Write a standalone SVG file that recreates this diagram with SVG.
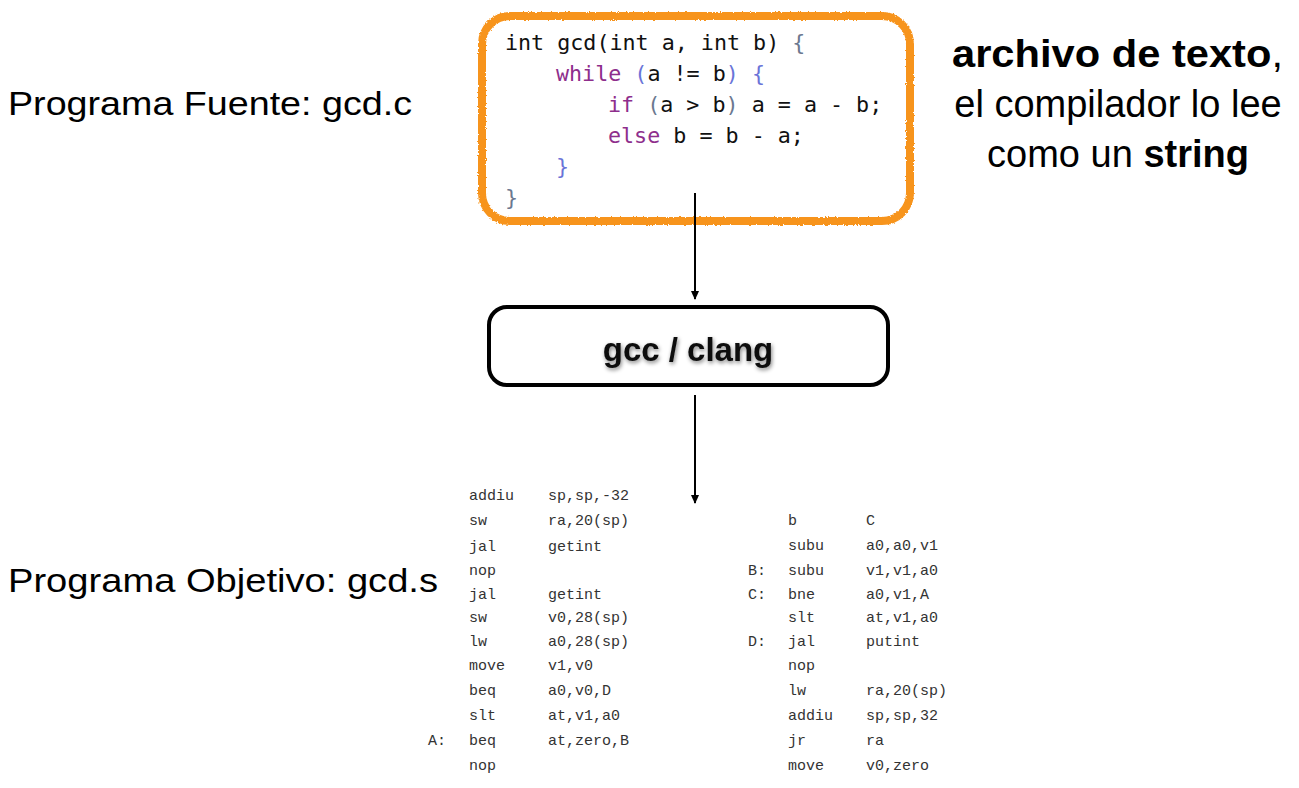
<svg xmlns="http://www.w3.org/2000/svg" width="1299" height="788" viewBox="0 0 1299 788">
<defs>
<style>
.lbl{font-family:"Liberation Sans",Arial,sans-serif;font-size:33px;fill:#000}
.rt{font-family:"Liberation Sans",Arial,sans-serif;font-size:38px;fill:#000}
.b{font-weight:bold}
.code{font-family:"DejaVu Sans Mono",monospace;font-size:21.7px;fill:#111;white-space:pre}
.kw{fill:#8e2e8c}
.br{fill:#6a74d8}
.gb{fill:#6b7890}
.asm{font-family:"Liberation Mono","Courier New",monospace;font-size:15px;fill:#333;white-space:pre}
.conn{stroke:#000;stroke-width:2;fill:none}
</style>
<marker id="ah" markerWidth="10" markerHeight="10" refX="8" refY="5" orient="auto" markerUnits="userSpaceOnUse">
<path d="M0,1 L9,5 L0,9 Z" fill="#000"/>
</marker>
<filter id="sh" x="-10%" y="-20%" width="120%" height="140%">
<feGaussianBlur in="SourceAlpha" stdDeviation="2"/>
<feOffset dx="1" dy="2" result="o"/>
<feComponentTransfer><feFuncA type="linear" slope="0.5"/></feComponentTransfer>
<feMerge><feMergeNode/><feMergeNode in="SourceGraphic"/></feMerge>
</filter>
<filter id="rough" x="-5%" y="-5%" width="110%" height="110%">
<feTurbulence type="fractalNoise" baseFrequency="0.6" numOctaves="2" seed="3" result="n"/>
<feDisplacementMap in="SourceGraphic" in2="n" scale="3" xChannelSelector="R" yChannelSelector="G"/>
</filter>
</defs>
<rect width="1299" height="788" fill="#fff"/>

<g id="labels">
<text class="lbl" x="8" y="115" textLength="404" lengthAdjust="spacingAndGlyphs">Programa Fuente: gcd.c</text>
<text class="lbl" x="8" y="592" textLength="430" lengthAdjust="spacingAndGlyphs">Programa Objetivo: gcd.s</text>
<text class="rt" x="952" y="67" textLength="331" lengthAdjust="spacingAndGlyphs"><tspan class="b">archivo de texto</tspan>,</text>
<text class="rt" x="1118" y="117" text-anchor="middle">el compilador lo lee</text>
<text class="rt" x="1118" y="167" text-anchor="middle">como un <tspan class="b">string</tspan></text>
</g>

<g id="source">
<rect x="482" y="16" width="428" height="205" rx="28" fill="#fff" stroke="#f7941d" stroke-width="8" filter="url(#rough)"/>
<text class="code" x="505" y="50">int gcd(int a, int b) <tspan class="gb">{</tspan></text>
<text class="code" x="556" y="81"><tspan class="kw">while</tspan> <tspan class="br">(</tspan>a != b<tspan class="br">)</tspan> <tspan class="br">{</tspan></text>
<text class="code" x="608" y="112"><tspan class="kw">if</tspan> <tspan class="gb">(</tspan>a &gt; b<tspan class="gb">)</tspan> a = a - b;</text>
<text class="code" x="608" y="143"><tspan class="kw">else</tspan> b = b - a;</text>
<text class="code" x="556" y="174"><tspan class="br">}</tspan></text>
<text class="code" x="505" y="205"><tspan class="gb">}</tspan></text>
</g>

<g id="compiler">
<rect x="489" y="307" width="399" height="78" rx="18" fill="#fff" stroke="#000" stroke-width="4"/>
<text x="688" y="361" text-anchor="middle" filter="url(#sh)" style="font-family:'Liberation Sans',Arial,sans-serif;font-size:33px;font-weight:bold;fill:#111">gcc / clang</text>
</g>

<g id="connectors">
<line class="conn" x1="695" y1="193" x2="695" y2="299" marker-end="url(#ah)"/>
<line class="conn" x1="695" y1="395" x2="695" y2="503" marker-end="url(#ah)"/>
</g>

<g id="target">
<text class="asm" x="469" y="500">addiu</text><text class="asm" x="548" y="500">sp,sp,-32</text>
<text class="asm" x="469" y="525">sw</text><text class="asm" x="548" y="525">ra,20(sp)</text>
<text class="asm" x="469" y="551">jal</text><text class="asm" x="548" y="551">getint</text>
<text class="asm" x="469" y="575">nop</text>
<text class="asm" x="469" y="599">jal</text><text class="asm" x="548" y="599">getint</text>
<text class="asm" x="469" y="622">sw</text><text class="asm" x="548" y="622">v0,28(sp)</text>
<text class="asm" x="469" y="646">lw</text><text class="asm" x="548" y="646">a0,28(sp)</text>
<text class="asm" x="469" y="670">move</text><text class="asm" x="548" y="670">v1,v0</text>
<text class="asm" x="469" y="695">beq</text><text class="asm" x="548" y="695">a0,v0,D</text>
<text class="asm" x="469" y="720">slt</text><text class="asm" x="548" y="720">at,v1,a0</text>
<text class="asm" x="428" y="745">A:</text><text class="asm" x="469" y="745">beq</text><text class="asm" x="548" y="745">at,zero,B</text>
<text class="asm" x="469" y="770">nop</text>

<text class="asm" x="788" y="525">b</text><text class="asm" x="866" y="525">C</text>
<text class="asm" x="788" y="550">subu</text><text class="asm" x="866" y="550">a0,a0,v1</text>
<text class="asm" x="748" y="575">B:</text><text class="asm" x="788" y="575">subu</text><text class="asm" x="866" y="575">v1,v1,a0</text>
<text class="asm" x="748" y="599">C:</text><text class="asm" x="788" y="599">bne</text><text class="asm" x="866" y="599">a0,v1,A</text>
<text class="asm" x="788" y="622">slt</text><text class="asm" x="866" y="622">at,v1,a0</text>
<text class="asm" x="748" y="646">D:</text><text class="asm" x="788" y="646">jal</text><text class="asm" x="866" y="646">putint</text>
<text class="asm" x="788" y="670">nop</text>
<text class="asm" x="788" y="695">lw</text><text class="asm" x="866" y="695">ra,20(sp)</text>
<text class="asm" x="788" y="720">addiu</text><text class="asm" x="866" y="720">sp,sp,32</text>
<text class="asm" x="788" y="745">jr</text><text class="asm" x="866" y="745">ra</text>
<text class="asm" x="788" y="770">move</text><text class="asm" x="866" y="770">v0,zero</text>
</g>
</svg>
